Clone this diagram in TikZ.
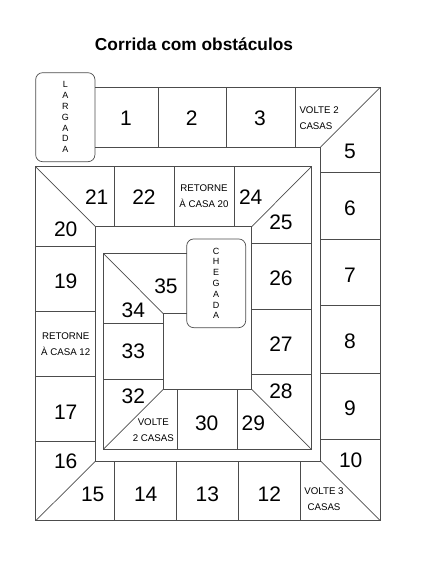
\documentclass[tikz,border=0pt]{standalone}
\usepackage{fontspec}
\setmainfont{Liberation Sans}

\tikzset{
  wall/.style={line width=0.7pt,draw=black!70},
  num/.style={inner sep=0pt,font=\fontsize{21}{21}\selectfont},
  note/.style={inner sep=0pt,align=center,font=\fontsize{9.7}{15.8}\selectfont},
  endbox/.style={wall,rounded corners=7pt,inner sep=0pt,align=center,font=\fontsize{9}{10.8}\selectfont}
}

\begin{document}
\begin{tikzpicture}[x=1pt,y=-1pt]
\useasboundingbox (0,0) rectangle (422,566);
\node[font=\bfseries\fontsize{17.3}{17.3}\selectfont,anchor=base] (title) at (194,50.7) {Corrida com obstáculos};
% start and finish
\node[endbox,minimum width=59.3pt,minimum height=89pt] (largada) at (65.3,117.2) {L\\A\\R\\G\\A\\D\\A};
\node[endbox,minimum width=59pt,minimum height=88.7pt] (chegada) at (216.2,283.3) {C\\H\\E\\G\\A\\D\\A};
% the track, one spiral each side
\draw[wall] (95,87.3)--(380.3,87.3)--(380.3,520.7)--(35.7,520.7)--(35.7,166.7)--(311.3,166.7)--(311.3,449.3)--(103.3,449.3)--(103.3,253.3)--(186.7,253.3);
\draw[wall] (95,147)--(320.7,147)--(320.7,461)--(95.7,461)--(95.7,226.7)--(251.7,226.7)--(251.7,389.3)--(163.3,389.3)--(163.3,313.7)--(186.7,313.7);
% corners
\draw[wall] (380.3,87.3)--(320.7,147) (380.3,520.7)--(320.7,461) (35.7,520.7)--(95.7,461) (35.7,166.7)--(95.7,226.7);
\draw[wall] (311.3,166.7)--(251.7,226.7) (311.3,449.3)--(251.7,389.3) (103.3,449.3)--(163.3,389.3) (103.3,253.3)--(163.3,313.7);
% cell borders
\draw[wall] (158,87.3)--(158,147) (226.3,87.3)--(226.3,147) (295,87.3)--(295,147);
\draw[wall] (320.7,172.3)--(380.3,172.3) (320.7,239.3)--(380.3,239.3) (320.7,305.7)--(380.3,305.7) (320.7,373)--(380.3,373) (320.7,439.3)--(380.3,439.3);
\draw[wall] (114.7,461)--(114.7,520.7) (176.3,461)--(176.3,520.7) (238,461)--(238,520.7) (300,461)--(300,520.7);
\draw[wall] (35.7,246)--(95.7,246) (35.7,311.3)--(95.7,311.3) (35.7,376.3)--(95.7,376.3) (35.7,441.8)--(95.7,441.8);
\draw[wall] (114,166.7)--(114,226.7) (174,166.7)--(174,226.7) (234.3,166.7)--(234.3,226.7);
\draw[wall] (251.7,243.3)--(311.3,243.3) (251.7,309)--(311.3,309) (251.7,374)--(311.3,374);
\draw[wall] (177.3,389.3)--(177.3,449.3) (237.3,389.3)--(237.3,449.3);
\draw[wall] (103.3,323.3)--(163.3,323.3) (103.3,379)--(163.3,379);
% numbers
\node[num] (n1) at (126,118.3) {1};
\node[num] (n2) at (191.7,118.3) {2};
\node[num] (n3) at (260,118.3) {3};
\node[num] (n5) at (350,151) {5};
\node[num] (n6) at (350,208.3) {6};
\node[num] (n7) at (350,275) {7};
\node[num] (n8) at (350,341.7) {8};
\node[num] (n9) at (350,408.3) {9};
\node[num] (n10) at (350.7,460.7) {10};
\node[num] (n12) at (269.3,494) {12};
\node[num] (n13) at (207.3,494) {13};
\node[num] (n14) at (145.7,494) {14};
\node[num] (n15) at (92.7,494) {15};
\node[num] (n16) at (65.7,461.7) {16};
\node[num] (n17) at (65.7,412.7) {17};
\node[num] (n19) at (65.7,281.7) {19};
\node[num] (n20) at (65.7,229.3) {20};
\node[num] (n21) at (96.7,196.7) {21};
\node[num] (n22) at (144,196.7) {22};
\node[num] (n24) at (250.7,197.3) {24};
\node[num] (n25) at (281,222.7) {25};
\node[num] (n26) at (281,278.3) {26};
\node[num] (n27) at (281,344) {27};
\node[num] (n28) at (281,391.7) {28};
\node[num] (n29) at (253.3,423.3) {29};
\node[num] (n30) at (206.7,423.3) {30};
\node[num] (n32) at (133.3,396) {32};
\node[num] (n33) at (133.3,351) {33};
\node[num] (n34) at (133.3,310) {34};
\node[num] (n35) at (166,286) {35};
% obstacles
\node[note,align=left,anchor=west] (c4) at (299.3,118) {VOLTE 2\\CASAS};
\node[note] (c11) at (324,499.5) {VOLTE 3\\CASAS};
\node[note] (c18) at (65.7,343.9) {RETORNE\\À CASA 12};
\node[note] (c23) at (204,195.8) {RETORNE\\À CASA 20};
\node[note] (c31) at (153.3,429.9) {VOLTE\\2 CASAS};
\end{tikzpicture}
\end{document}
